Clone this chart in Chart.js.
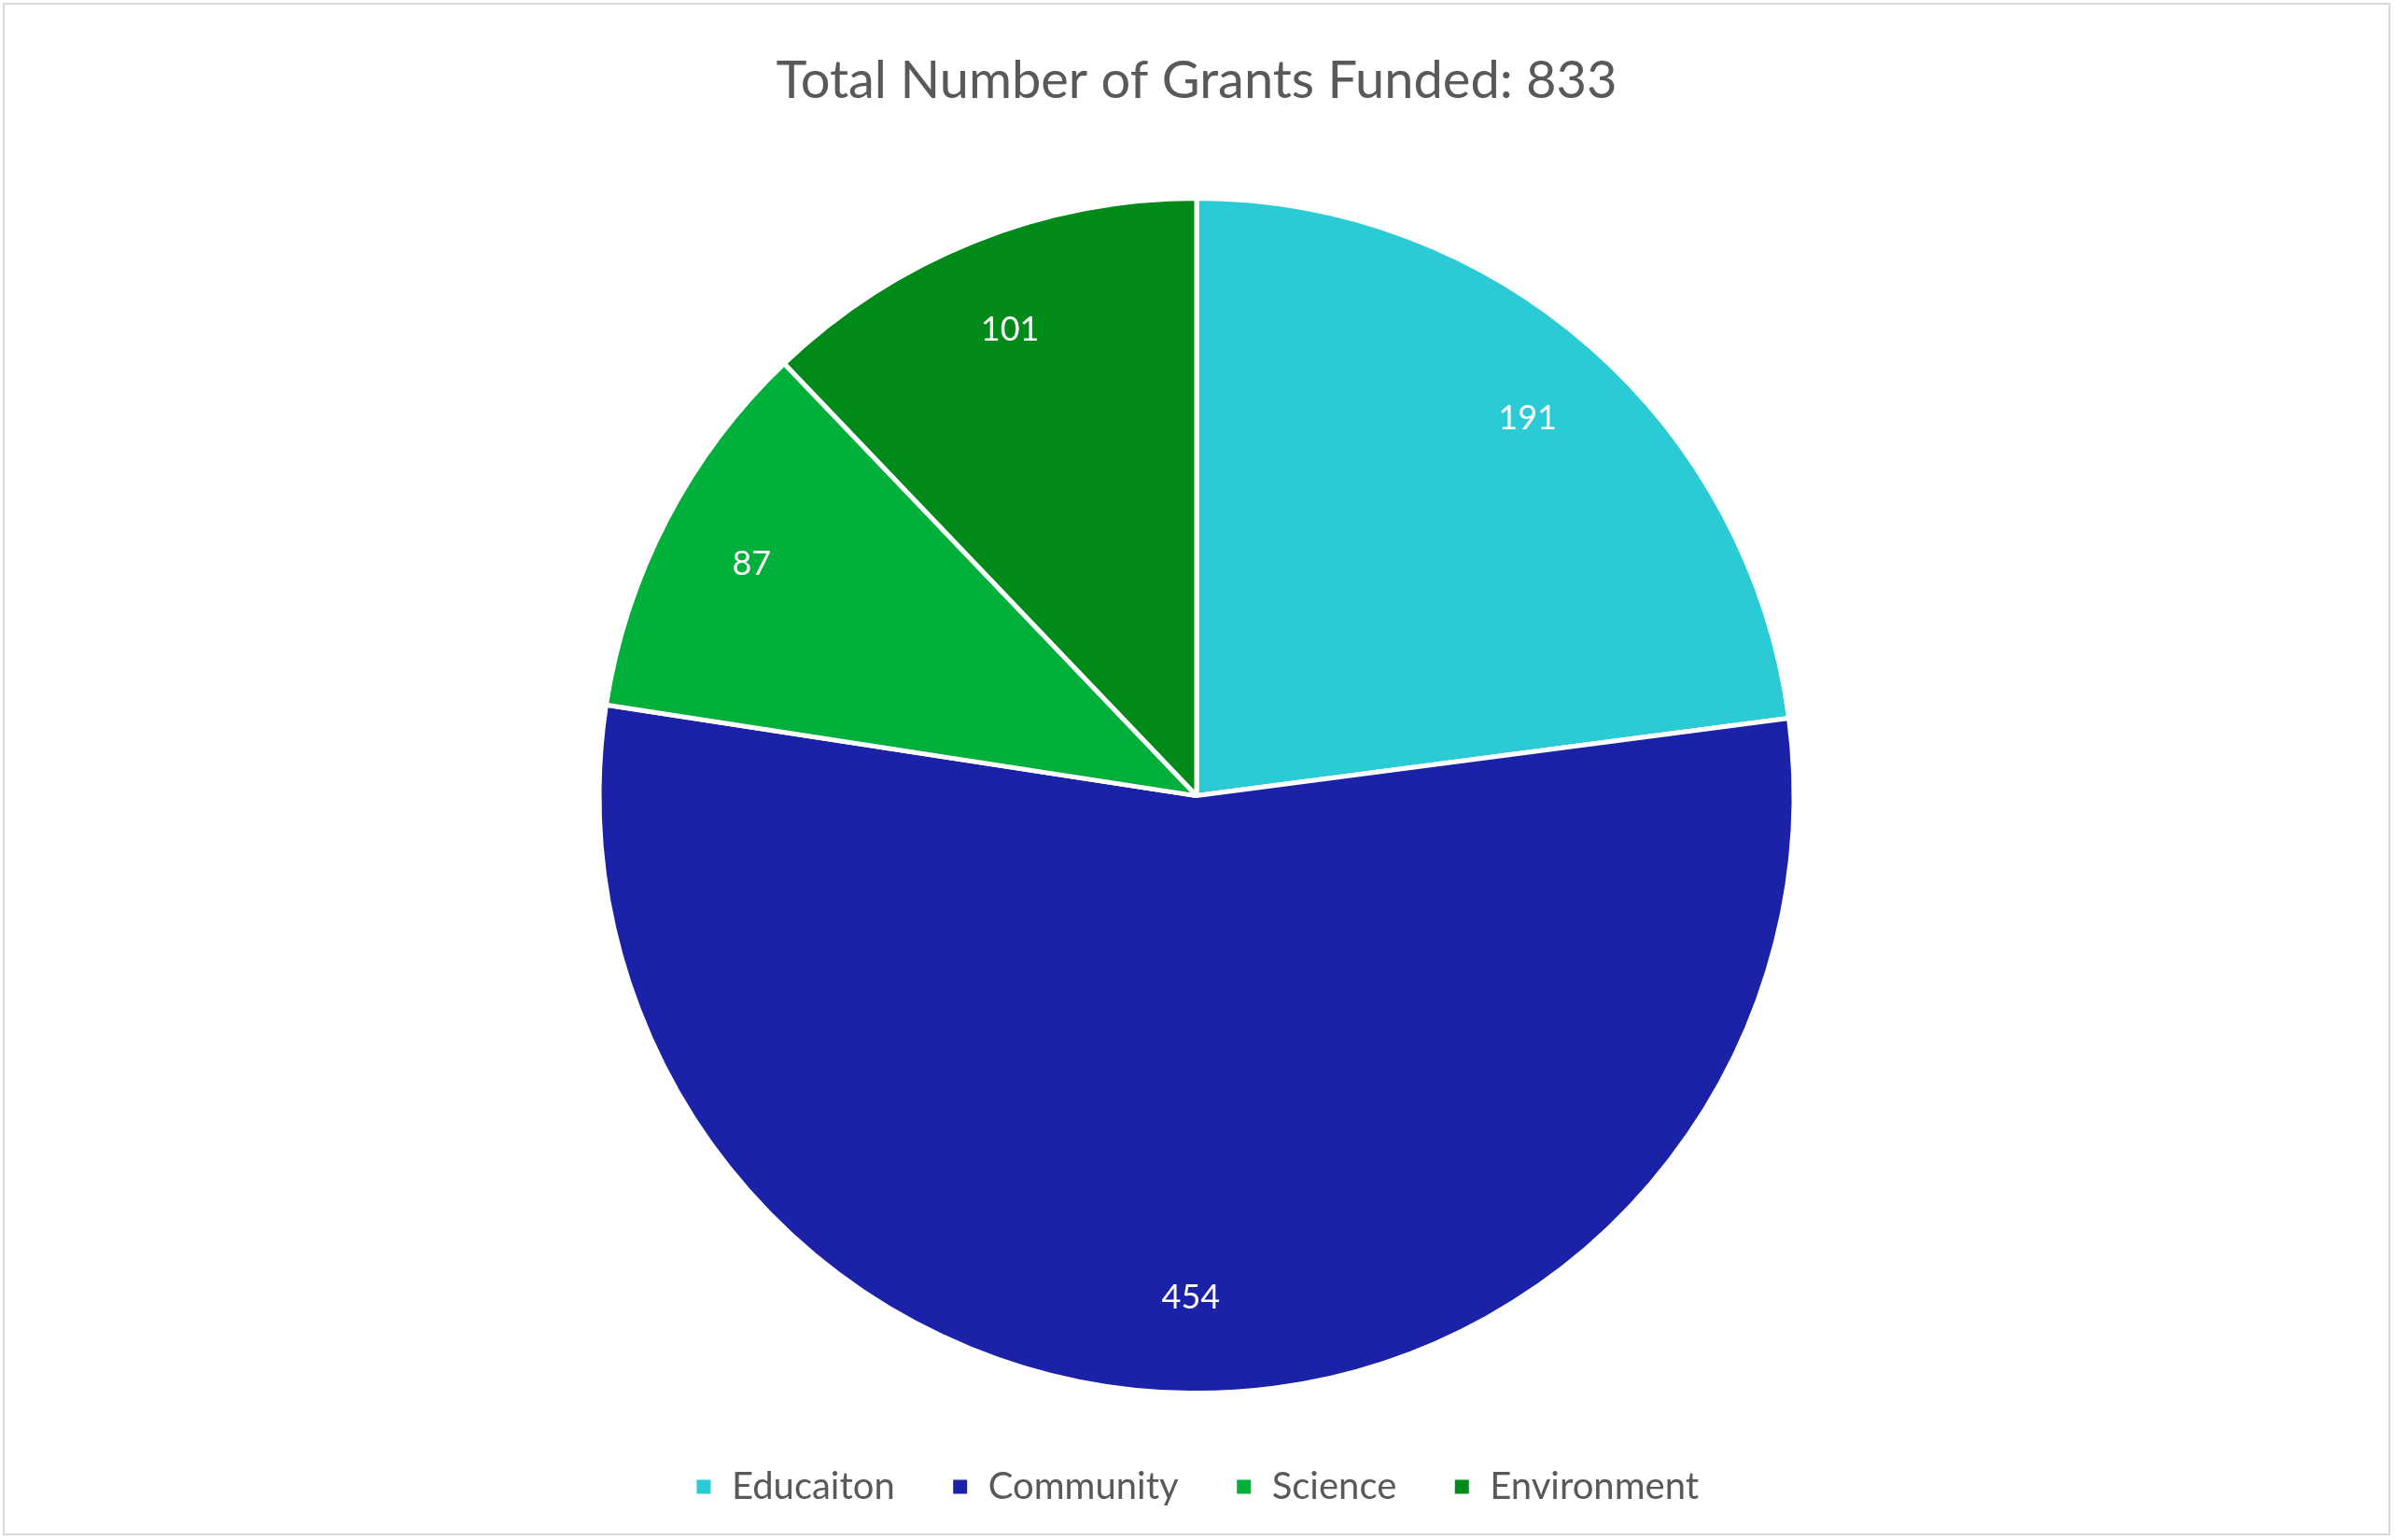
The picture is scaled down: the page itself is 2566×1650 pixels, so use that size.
<!DOCTYPE html>
<html><head><meta charset="utf-8">
<script src="https://cdn.jsdelivr.net/npm/chart.js@4/dist/chart.umd.min.js"></script>
<style>
html,body{margin:0;padding:0;background:#fff;}
#wrap{position:absolute;left:3px;top:3px;width:2558px;height:1642px;border:2px solid #d9d9d9;box-sizing:border-box;}
canvas{display:block;}
</style></head><body>
<div id="wrap"><canvas id="c"></canvas></div>
<script>
const categories = ["Educaiton", "Community", "Science", "Environment"];
const values = [191, 454, 87, 101];
const colors = ["#2BCBD6", "#1B22A8", "#00B03A", "#008A1A"];
const titleText = "Total Number of Grants Funded: 833";

const labelPlugin = {
  id: 'sliceLabels',
  afterDatasetsDraw(chart) {
    const ctx = chart.ctx;
    const meta = chart.getDatasetMeta(0);
    ctx.save();
    ctx.font = '36px Lato';
    ctx.fillStyle = '#ffffff';
    ctx.textAlign = 'center';
    ctx.textBaseline = 'middle';
    meta.data.forEach((arc, i) => {
      const p = arc.getProps(['x','y','startAngle','endAngle','outerRadius'], true);
      const a = (p.startAngle + p.endAngle) / 2;
      const r = p.outerRadius * 0.84;
      ctx.fillText(String(values[i]), p.x + Math.cos(a) * r, p.y + Math.sin(a) * r);
    });
    ctx.restore();
  }
};

new Chart(document.getElementById('c'), {
  type: 'pie',
  data: { labels: categories, datasets: [{ data: values, backgroundColor: colors, borderColor: '#ffffff', borderWidth: 5, radius: 640 }] },
  options: {
    responsive: true, maintainAspectRatio: false, animation: false,
    layout: { padding: { top: 0, bottom: 20, left: 0, right: 0 } },
    plugins: {
      tooltip: { enabled: false },
      title: { display: true, text: titleText, color: '#595959', font: { family: 'Lato', size: 56, weight: 'normal' }, padding: { top: 48, bottom: 72 } },
      legend: { position: 'bottom', labels: { color: '#595959', font: { family: 'Lato', size: 40 }, boxWidth: 20, boxHeight: 20, padding: 60 } }
    }
  },
  plugins: [labelPlugin]
});
</script>
</body></html>
